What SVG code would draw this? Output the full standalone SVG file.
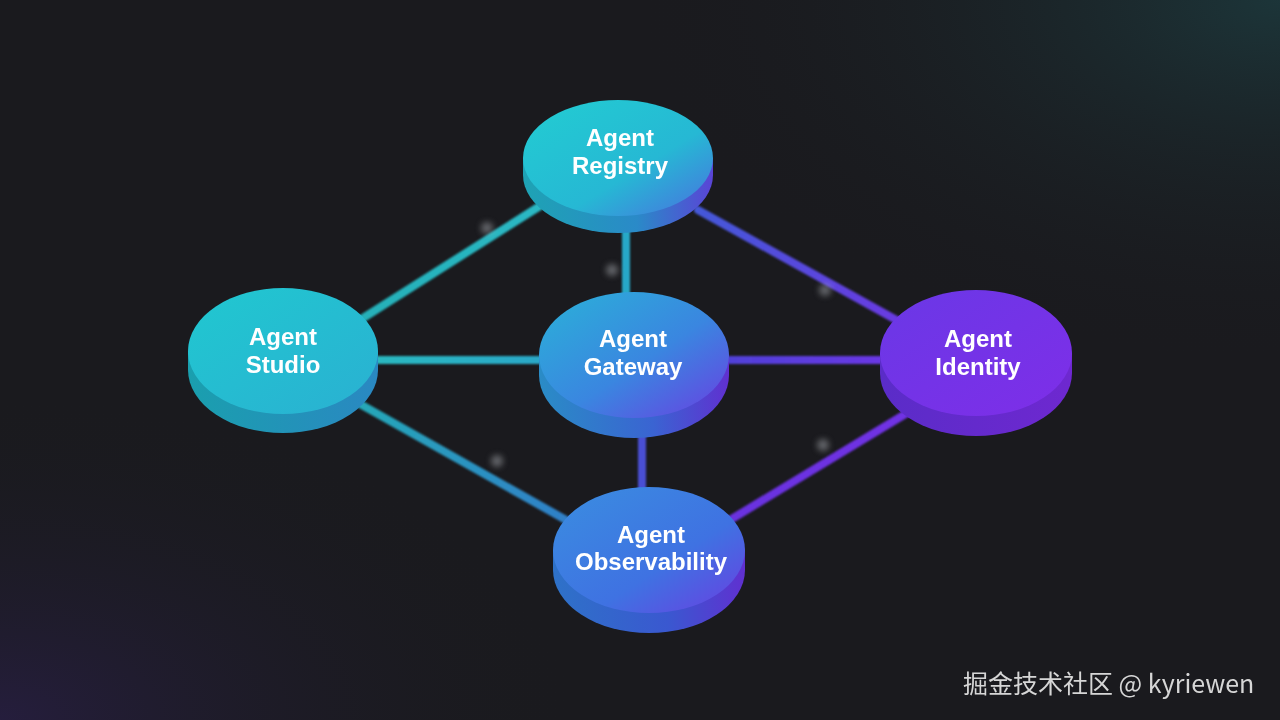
<svg xmlns="http://www.w3.org/2000/svg" width="1280" height="720" viewBox="0 0 1280 720">
<defs>
  <radialGradient id="glowTR" cx="1" cy="0" r="0.5">
    <stop offset="0" stop-color="#1d3e42" stop-opacity="0.75"/>
    <stop offset="1" stop-color="#1a1b1f" stop-opacity="0"/>
  </radialGradient>
  <radialGradient id="glowBL" cx="0" cy="1" r="0.45">
    <stop offset="0" stop-color="#2a1f4a" stop-opacity="0.7"/>
    <stop offset="1" stop-color="#1a1b1f" stop-opacity="0"/>
  </radialGradient>
  <filter id="blur" x="-2" y="-2" width="5" height="5"><feGaussianBlur stdDeviation="3"/></filter>
  <filter id="soft" x="-0.2" y="-0.2" width="1.4" height="1.4"><feGaussianBlur stdDeviation="1.2"/></filter>
  <linearGradient id="gReg" x1="0" y1="0" x2="1" y2="1">
    <stop offset="0" stop-color="#22cdd2"/><stop offset="0.6" stop-color="#26b8d4"/><stop offset="1" stop-color="#4a6fe0"/>
  </linearGradient>
  <linearGradient id="gRegS" x1="0" y1="0" x2="1" y2="0">
    <stop offset="0" stop-color="#1ea3b4"/><stop offset="0.6" stop-color="#2a8ac8"/><stop offset="1" stop-color="#5a44d6"/>
  </linearGradient>
  <linearGradient id="gStu" x1="0" y1="0" x2="1" y2="1">
    <stop offset="0" stop-color="#20c8d0"/><stop offset="1" stop-color="#2ab0d2"/>
  </linearGradient>
  <linearGradient id="gStuS" x1="0" y1="0" x2="1" y2="0">
    <stop offset="0" stop-color="#1a9fae"/><stop offset="1" stop-color="#2a88c2"/>
  </linearGradient>
  <linearGradient id="gGat" x1="0" y1="0" x2="1" y2="1">
    <stop offset="0" stop-color="#2ab2d8"/><stop offset="0.55" stop-color="#3a86e0"/><stop offset="1" stop-color="#6a3ee2"/>
  </linearGradient>
  <linearGradient id="gGatS" x1="0" y1="0" x2="1" y2="0">
    <stop offset="0" stop-color="#2a8cc6"/><stop offset="0.6" stop-color="#3a64d2"/><stop offset="1" stop-color="#6030d0"/>
  </linearGradient>
  <linearGradient id="gIde" x1="0" y1="0" x2="1" y2="1">
    <stop offset="0" stop-color="#6a38e6"/><stop offset="1" stop-color="#7e2ee8"/>
  </linearGradient>
  <linearGradient id="gIdeS" x1="0" y1="0" x2="1" y2="0">
    <stop offset="0" stop-color="#5a2cc8"/><stop offset="1" stop-color="#6e28d0"/>
  </linearGradient>
  <linearGradient id="gObs" x1="0" y1="0" x2="1" y2="1">
    <stop offset="0" stop-color="#3a8ee0"/><stop offset="0.6" stop-color="#3f72e2"/><stop offset="1" stop-color="#6a3ee2"/>
  </linearGradient>
  <linearGradient id="gObsS" x1="0" y1="0" x2="1" y2="0">
    <stop offset="0" stop-color="#2e72c8"/><stop offset="0.6" stop-color="#3a58d0"/><stop offset="1" stop-color="#6030d0"/>
  </linearGradient>
  <linearGradient id="cRS" gradientUnits="userSpaceOnUse" x1="530" y1="210" x2="360" y2="320">
    <stop offset="0" stop-color="#2ab8c4"/><stop offset="1" stop-color="#26b0b8"/>
  </linearGradient>
  <linearGradient id="cRI" gradientUnits="userSpaceOnUse" x1="700" y1="210" x2="900" y2="320">
    <stop offset="0" stop-color="#4458d8"/><stop offset="1" stop-color="#6a3ae2"/>
  </linearGradient>
  <linearGradient id="cSG" gradientUnits="userSpaceOnUse" x1="378" y1="360" x2="540" y2="360">
    <stop offset="0" stop-color="#2ab8c0"/><stop offset="1" stop-color="#2aa8c8"/>
  </linearGradient>
  <linearGradient id="cGI" gradientUnits="userSpaceOnUse" x1="728" y1="360" x2="882" y2="360">
    <stop offset="0" stop-color="#5040d8"/><stop offset="1" stop-color="#6a38e4"/>
  </linearGradient>
  <linearGradient id="cSO" gradientUnits="userSpaceOnUse" x1="360" y1="405" x2="565" y2="520">
    <stop offset="0" stop-color="#26a8b8"/><stop offset="1" stop-color="#3080c8"/>
  </linearGradient>
  <linearGradient id="cIO" gradientUnits="userSpaceOnUse" x1="910" y1="410" x2="730" y2="520">
    <stop offset="0" stop-color="#7030e4"/><stop offset="1" stop-color="#6a30e0"/>
  </linearGradient>
</defs>
<style>
  .lbl { font-family: "Liberation Sans", Arial, sans-serif; font-weight: bold; font-size: 24px; fill: #ffffff; text-anchor: middle; }
  .conn { stroke-width: 8; stroke-linecap: round; fill: none; }
  .dot { fill: #bfc4c8; opacity: 0.45; }
  .wm { font-family: "Noto Sans CJK SC", "Noto Sans", sans-serif; font-size: 25px; fill: #d6d6d6; }
</style>
<rect width="1280" height="720" fill="#1a1a1e"/>
<rect width="1280" height="720" fill="url(#glowTR)"/>
<rect width="1280" height="720" fill="url(#glowBL)"/>

<g id="connectors" filter="url(#soft)">
  <line class="conn" x1="540" y1="206" x2="360" y2="320" stroke="url(#cRS)"/>
  <line class="conn" x1="626" y1="230" x2="626" y2="296" stroke="#28a8c8"/>
  <line class="conn" x1="698" y1="210" x2="900" y2="322" stroke="url(#cRI)"/>
  <line class="conn" x1="376" y1="360" x2="542" y2="360" stroke="url(#cSG)"/>
  <line class="conn" x1="726" y1="360" x2="884" y2="360" stroke="url(#cGI)"/>
  <line class="conn" x1="360" y1="404" x2="566" y2="520" stroke="url(#cSO)"/>
  <line class="conn" x1="642" y1="432" x2="642" y2="492" stroke="#4a50d4"/>
  <line class="conn" x1="912" y1="410" x2="730" y2="520" stroke="url(#cIO)"/>
</g>

<g id="dots" filter="url(#blur)">
  <circle class="dot" cx="487" cy="228" r="6"/>
  <circle class="dot" cx="612" cy="270" r="6"/>
  <circle class="dot" cx="825" cy="290" r="6"/>
  <circle class="dot" cx="497" cy="461" r="6"/>
  <circle class="dot" cx="823" cy="445" r="6"/>
</g>

<g id="node-registry">
  <path d="M523,158 L523,175 A95,58 0 0 0 713,175 L713,158 Z" fill="url(#gRegS)"/>
  <ellipse cx="618" cy="158" rx="95" ry="58" fill="url(#gReg)"/>
  <text class="lbl" x="620" y="146">Agent</text>
  <text class="lbl" x="620" y="174">Registry</text>
</g>

<g id="node-studio">
  <path d="M188,351 L188,370 A95,63 0 0 0 378,370 L378,351 Z" fill="url(#gStuS)"/>
  <ellipse cx="283" cy="351" rx="95" ry="63" fill="url(#gStu)"/>
  <text class="lbl" x="283" y="345">Agent</text>
  <text class="lbl" x="283" y="373">Studio</text>
</g>

<g id="node-gateway">
  <path d="M539,355 L539,375 A95,63 0 0 0 729,375 L729,355 Z" fill="url(#gGatS)"/>
  <ellipse cx="634" cy="355" rx="95" ry="63" fill="url(#gGat)"/>
  <text class="lbl" x="633" y="347">Agent</text>
  <text class="lbl" x="633" y="375">Gateway</text>
</g>

<g id="node-identity">
  <path d="M880,353 L880,373 A96,63 0 0 0 1072,373 L1072,353 Z" fill="url(#gIdeS)"/>
  <ellipse cx="976" cy="353" rx="96" ry="63" fill="url(#gIde)"/>
  <text class="lbl" x="978" y="347">Agent</text>
  <text class="lbl" x="978" y="375">Identity</text>
</g>

<g id="node-observability">
  <path d="M553,550 L553,570 A96,63 0 0 0 745,570 L745,550 Z" fill="url(#gObsS)"/>
  <ellipse cx="649" cy="550" rx="96" ry="63" fill="url(#gObs)"/>
  <text class="lbl" x="651" y="543">Agent</text>
  <text class="lbl" x="651" y="570">Observability</text>
</g>

<text class="wm" x="963" y="693">掘金技术社区 @ kyriewen</text>
</svg>
